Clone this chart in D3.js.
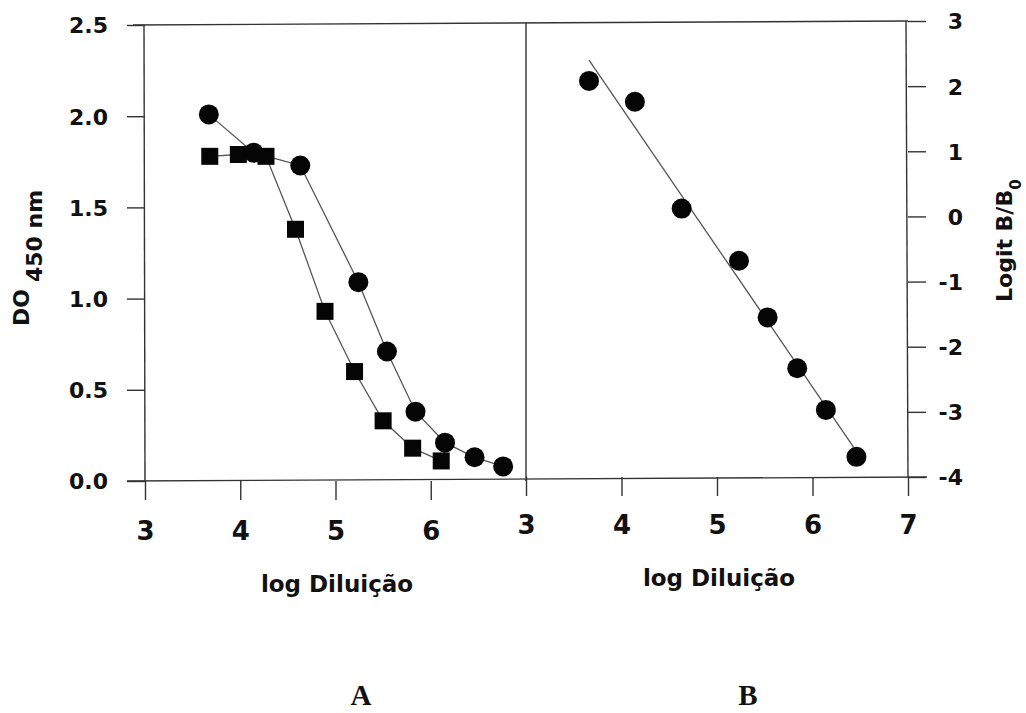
<!DOCTYPE html>
<html>
<head>
<meta charset="utf-8">
<script src="https://cdn.jsdelivr.net/npm/d3@7/dist/d3.min.js"></script>
<style>
  html, body { margin: 0; padding: 0; background: #fff; }
  svg text { font-family: "DejaVu Sans", "Liberation Sans", Arial, sans-serif; font-weight: bold; fill: #111; }
  .serif { font-family: "Liberation Serif", "Times New Roman", serif !important; }
</style>
</head>
<body>
<svg id="chart" width="1026" height="713"></svg>
<script>
// Panel A: optical density vs log dilution, two sera
const circlesAX = [3.67, 4.14, 4.63, 5.24, 5.54, 5.84, 6.15, 6.46, 6.76];
const circlesAY = [2.01, 1.80, 1.73, 1.09, 0.71, 0.38, 0.21, 0.13, 0.08];
const squaresAX = [3.68, 3.98, 4.27, 4.58, 4.89, 5.20, 5.50, 5.81, 6.11];
const squaresAY = [1.78, 1.79, 1.78, 1.38, 0.93, 0.60, 0.33, 0.18, 0.11];

// Panel B: logit transform with fitted straight line
const logitX = [3.66, 4.14, 4.63, 5.23, 5.53, 5.84, 6.14, 6.46];
const logitY = [2.08, 1.76, 0.12, -0.68, -1.55, -2.33, -2.97, -3.69];
const fitX = [3.66, 6.43];
const fitY = [2.40, -3.54];

// Tick values
const xTicksA = [3, 4, 5, 6];
const xTicksB = [3, 4, 5, 6, 7];
const yTicksA = [0, 0.5, 1.0, 1.5, 2.0, 2.5];
const yTicksB = [-4, -3, -2, -1, 0, 1, 2, 3];

const svg = d3.select("#chart");

const xA = d3.scaleLinear().domain([3, 7]).range([145, 526]);
const yA = d3.scaleLinear().domain([0, 2.5]).range([481, 25]);
const xB = d3.scaleLinear().domain([3, 7]).range([526, 908]);
const yB = d3.scaleLinear().domain([-4, 3]).range([477, 21]);

const axisColor = "#333";
const lineColor = "#555";
const plain = d => String(d);

// Frame lines
const frame = svg.append("g").attr("stroke", axisColor).attr("stroke-width", 1.4).attr("fill", "none");
frame.append("line").attr("x1", xA(3) - 12).attr("y1", yA(2.5)).attr("x2", xB(7)).attr("y2", yB(3));
frame.append("line").attr("x1", xA(3) - 18).attr("y1", yA(0)).attr("x2", xB(7) + 19).attr("y2", yB(-4));
frame.append("line").attr("x1", xA(3) - 1).attr("y1", yA(2.5)).attr("x2", xA(3)).attr("y2", yA(0));
frame.append("line").attr("x1", xA(7)).attr("y1", yA(2.5) - 2).attr("x2", xA(7)).attr("y2", yA(0));
frame.append("line").attr("x1", xB(7) - 2).attr("y1", yB(3)).attr("x2", xB(7)).attr("y2", yB(-4));

function styleAxis(g) {
  g.select(".domain").remove();
  g.selectAll(".tick line").attr("stroke", axisColor).attr("stroke-width", 1.4);
  g.selectAll(".tick text").attr("fill", "#111");
}

// Left y axis (DO 450 nm)
svg.append("g")
  .attr("transform", `translate(${xA(3)},0)`)
  .call(d3.axisLeft(yA).tickValues(yTicksA).tickFormat(d3.format(".1f")).tickSize(18).tickPadding(19))
  .call(styleAxis)
  .call(g => g.selectAll(".tick text").style("font-size", "22px").attr("dy", "0.36em"));

// Right y axis (Logit B/B0)
svg.append("g")
  .attr("transform", `translate(${xB(7)},0)`)
  .call(d3.axisRight(yB).tickValues(yTicksB).tickFormat(plain).tickSize(18))
  .call(styleAxis)
  .call(g => g.selectAll(".tick text").style("font-size", "22px")
    .attr("text-anchor", "end").attr("x", 55).attr("dy", "0.36em"));

// Bottom axes
svg.append("g")
  .attr("transform", `translate(0,${yA(0)})`)
  .call(d3.axisBottom(xA).tickValues(xTicksA).tickFormat(plain).tickSize(19))
  .call(styleAxis)
  .call(g => g.selectAll(".tick text").style("font-size", "26px").attr("y", 59).attr("dy", 0));

svg.append("g")
  .attr("transform", `translate(0,${yB(-4)})`)
  .call(d3.axisBottom(xB).tickValues(xTicksB).tickFormat(plain).tickSize(19))
  .call(styleAxis)
  .call(g => g.selectAll(".tick text").style("font-size", "26px").attr("y", 57).attr("dy", 0));

// Connecting lines, panel A
const lineA = d3.line().x(d => xA(d[0])).y(d => yA(d[1]));
const circlesA = circlesAX.map((x, i) => [x, circlesAY[i]]);
const squaresA = squaresAX.map((x, i) => [x, squaresAY[i]]);
svg.append("path").datum(circlesA).attr("d", lineA)
  .attr("fill", "none").attr("stroke", lineColor).attr("stroke-width", 1.3);
svg.append("path").datum(squaresA).attr("d", lineA)
  .attr("fill", "none").attr("stroke", lineColor).attr("stroke-width", 1.3);

// Fitted line, panel B
const lineB = d3.line().x(d => xB(d[0])).y(d => yB(d[1]));
svg.append("path").datum(fitX.map((x, i) => [x, fitY[i]])).attr("d", lineB)
  .attr("fill", "none").attr("stroke", lineColor).attr("stroke-width", 1.3);

// Markers
const sq = 17;
svg.append("g").selectAll("rect").data(squaresA).join("rect")
  .attr("x", d => xA(d[0]) - sq / 2).attr("y", d => yA(d[1]) - sq / 2)
  .attr("width", sq).attr("height", sq).attr("fill", "#050505");
svg.append("g").selectAll("circle").data(circlesA).join("circle")
  .attr("cx", d => xA(d[0])).attr("cy", d => yA(d[1])).attr("r", 10).attr("fill", "#050505");
svg.append("g").selectAll("circle").data(logitX.map((x, i) => [x, logitY[i]])).join("circle")
  .attr("cx", d => xB(d[0])).attr("cy", d => yB(d[1])).attr("r", 10).attr("fill", "#050505");

// Axis titles
svg.append("text").attr("x", 337).attr("y", 592).attr("text-anchor", "middle")
  .style("font-size", "23px").text("log Diluição");
svg.append("text").attr("x", 719).attr("y", 586).attr("text-anchor", "middle")
  .style("font-size", "23px").text("log Diluição");

const doLabel = svg.append("text").attr("transform", "translate(29,326) rotate(-90)")
  .style("font-size", "22px");
doLabel.append("tspan").text("DO");
doLabel.append("tspan").attr("dx", 7).attr("dy", 13).text("450 nm");

const logitLabel = svg.append("text").attr("transform", "translate(1012,302) rotate(-90)")
  .style("font-size", "22px");
logitLabel.append("tspan").text("Logit B/B");
logitLabel.append("tspan").attr("dy", 9).style("font-size", "15px").text("0");

// Panel letters
svg.append("text").attr("class", "serif").attr("x", 361).attr("y", 705).attr("text-anchor", "middle")
  .style("font-size", "29px").text("A");
svg.append("text").attr("class", "serif").attr("x", 748).attr("y", 705).attr("text-anchor", "middle")
  .style("font-size", "29px").text("B");
</script>
</body>
</html>
